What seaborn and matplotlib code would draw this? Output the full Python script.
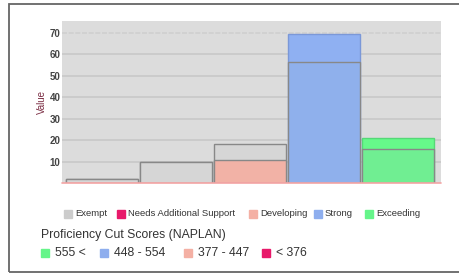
import matplotlib
matplotlib.use("Agg")
import matplotlib.pyplot as plt
from matplotlib.patches import Rectangle
import seaborn as sns
import pandas as pd

# ---- data ----
categories = ["Exempt", "Group 2", "Developing", "Strong", "Exceeding"]
outer_values = [2.0, 9.6, 18.4, 69.4, 21.2]
inner_values = [2.0, 9.6, 10.9, 56.4, 15.9]
outer_colors = ["#d6d6d6", "#d6d6d6", "#d6d6d6", "#8fb0f2", "#66fa8a"]
outer_edges = ["#888888", "#888888", "#888888", "#7b98d8", "#55d877"]
inner_colors = ["#d6d6d6", "#d6d6d6", "#f2b2a6", "#8fb0ec", "#70ee92"]
y_ticks = [10, 20, 30, 40, 50, 60, 70]

legend1_labels = ["Exempt", "Needs Additional Support", "Developing", "Strong", "Exceeding"]
legend1_colors = ["#cccccc", "#e8196a", "#f4b0a4", "#8eaeee", "#66f58a"]
legend2_title = "Proficiency Cut Scores (NAPLAN)"
legend2_labels = ["555 <", "448 - 554", "377 - 447", "< 376"]
legend2_colors = ["#66f58a", "#8eaeee", "#f4b0a4", "#e8196a"]

sns.set_theme(style="white")
plt.rcParams["font.family"] = ["Liberation Sans", "DejaVu Sans"]

W, H = 460, 273
fig = plt.figure(figsize=(W / 100, H / 100), dpi=100)
fig.patch.set_facecolor("white")

ax = fig.add_axes([62 / W, 1 - 183 / H, (441 - 62) / W, (183 - 21) / H])
ax.set_facecolor("#dcdcdc")

df_outer = pd.DataFrame({"cat": categories, "val": outer_values})
df_inner = pd.DataFrame({"cat": categories, "val": inner_values})

sns.barplot(data=df_outer, x="cat", y="val", hue="cat", palette=outer_colors,
            width=0.97, legend=False, ax=ax, linewidth=1.0, edgecolor="#888888",
            saturation=1)
for patch, ec in zip(ax.patches, outer_edges):
    patch.set_edgecolor(ec)
sns.barplot(data=df_inner, x="cat", y="val", hue="cat", palette=inner_colors,
            width=0.97, legend=False, ax=ax, linewidth=1.0, edgecolor="#888888",
            saturation=1)

ax.set_xlim(-0.54, 4.58)
ax.set_ylim(0, 75.5)
ax.set_yticks(y_ticks)
ax.set_yticklabels([str(v) for v in y_ticks], fontsize=7, color="#444444",
                   fontweight="bold")
ax.tick_params(axis="y", length=0, pad=1)
ax.set_xticks([])
ax.set_xlabel("")
ax.set_ylabel("Value", fontsize=7, color="#7b2d43", labelpad=2)
for s in ax.spines.values():
    s.set_visible(False)
ax.set_axisbelow(True)
ax.yaxis.grid(True, color="#c8c8c8", linewidth=1.2)
for line, t in zip(ax.get_ygridlines(), y_ticks):
    if t == 70:
        line.set_linestyle((0, (3, 1)))
        line.set_color("#cfcfcf")
ax.axhline(0, color="#f4a4a4", linewidth=1.2, zorder=5, clip_on=False)

# outer frame
fig.patches.append(Rectangle((9 / W, 1 - 272 / H), 1.2, (272 - 4) / H,
                             transform=fig.transFigure, fill=False,
                             edgecolor="#666666", linewidth=1.3))

# legend row 1
sq_x = [64, 117, 249, 314, 365]
y1 = 214
for lab, c, sx in zip(legend1_labels, legend1_colors, sq_x):
    fig.patches.append(Rectangle((sx / W, 1 - (y1 + 4) / H), 8 / W, 8 / H,
                                 transform=fig.transFigure, color=c))
    fig.text((sx + 11) / W, 1 - y1 / H, lab, fontsize=6.8, color="#333333",
             va="center", ha="left")

# legend title
fig.text(41 / W, 1 - 235 / H, legend2_title, fontsize=8.8, color="#333333",
         va="center", ha="left")

# legend row 2
sq2_x = [41, 100, 184, 262]
y3 = 253
for lab, c, sx in zip(legend2_labels, legend2_colors, sq2_x):
    fig.patches.append(Rectangle((sx / W, 1 - (y3 + 4) / H), 8 / W, 8 / H,
                                 transform=fig.transFigure, color=c))
    fig.text((sx + 14) / W, 1 - y3 / H, lab, fontsize=8.8, color="#333333",
             va="center", ha="left")

fig.savefig("out.png", dpi=100)
